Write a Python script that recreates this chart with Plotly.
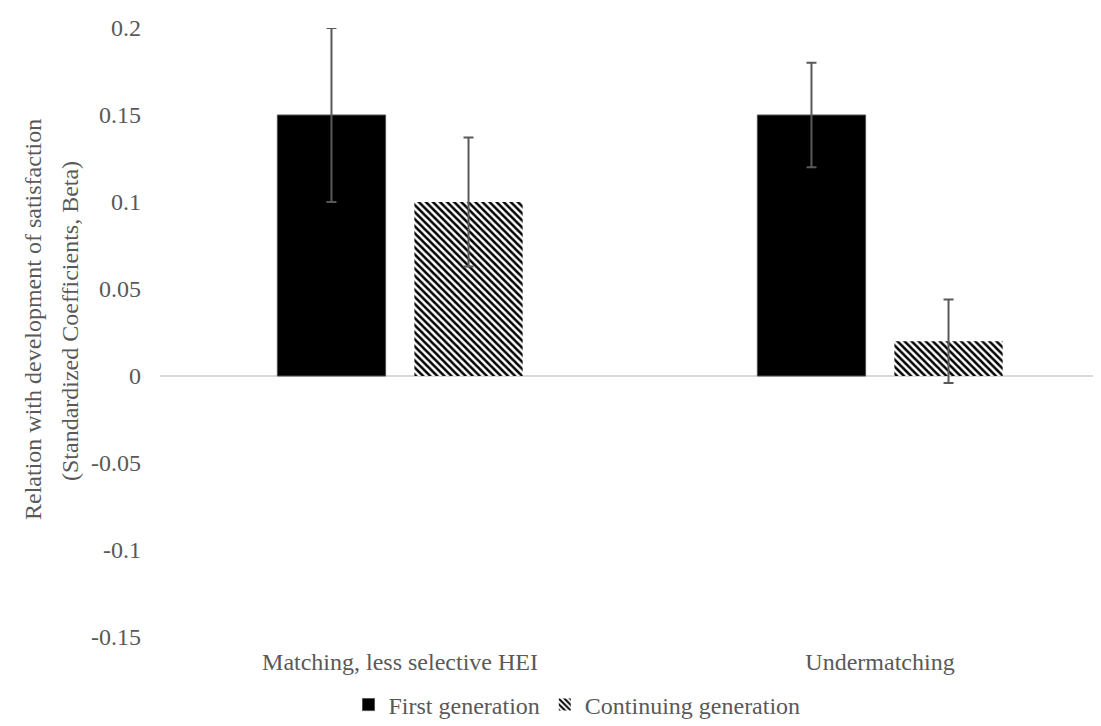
import plotly.graph_objects as go

categories = ["Matching, less selective HEI", "Undermatching"]
first_gen = [0.15, 0.15]
first_gen_err = [0.05, 0.03]
cont_gen = [0.10, 0.02]
cont_gen_err = [0.037, 0.024]
y_ticks = [-0.15, -0.1, -0.05, 0, 0.05, 0.1, 0.15, 0.2]
y_tick_text = ["-0.15", "-0.1", "-0.05", "0", "0.05", "0.1", "0.15", "0.2"]
y_title_1 = "Relation with development of satisfaction"
y_title_2 = "(Standardized Coefficients, Beta)"

FONT = "'Liberation Serif', 'Times New Roman', serif"
GRAY = "#595959"

fig = go.Figure()
fig.add_trace(go.Bar(
    name="First generation", x=categories, y=first_gen,
    marker=dict(color="black", line=dict(color="#505050", width=1)),
    error_y=dict(type="data", array=first_gen_err, color=GRAY, thickness=2, width=5),
))
fig.add_trace(go.Bar(
    name="Continuing generation", x=categories, y=cont_gen,
    marker=dict(color="white", line=dict(width=0),
                pattern=dict(shape="\\", fgcolor="black", bgcolor="white",
                             size=5, solidity=0.5, fillmode="replace")),
    error_y=dict(type="data", array=cont_gen_err, color=GRAY, thickness=2, width=5),
))

W, H = 1101, 726
L, R, T, B = 152, 0, 20, 97
pw = W - L - R
ph = H - T - B

fig.update_layout(
    width=W, height=H,
    margin=dict(l=L, r=R, t=T, b=B, pad=0),
    paper_bgcolor="white", plot_bgcolor="white",
    barmode="group", bargap=0.429, bargroupgap=0.21,
    font=dict(family=FONT, size=24, color=GRAY),
    xaxis=dict(range=[-0.5, -0.5 + pw / 480.0], showgrid=False, showline=False,
               zeroline=False, ticks="", ticklabelstandoff=8,
               tickfont=dict(family=FONT, size=24, color=GRAY)),
    yaxis=dict(range=[-0.15, 0.2], tickvals=y_ticks, ticktext=y_tick_text,
               showgrid=False, showline=False, zeroline=True,
               zerolinecolor="#d9d9d9", zerolinewidth=2, ticks="",
               ticklabelstandoff=18,
               tickfont=dict(family=FONT, size=24, color=GRAY)),
    showlegend=True,
    legend=dict(orientation="h", x=(569 - L) / pw, xanchor="center",
                y=-(697 - (T + ph)) / ph, yanchor="middle",
                font=dict(family=FONT, size=24, color=GRAY),
                bgcolor="rgba(0,0,0,0)", itemwidth=30, traceorder="normal"),
)

fig.add_annotation(text=y_title_1, xref="paper", yref="paper",
                   x=(25 - L) / pw, y=(T + ph - 312) / ph, textangle=-90,
                   showarrow=False, xanchor="center", yanchor="middle",
                   font=dict(family=FONT, size=24, color=GRAY))
fig.add_annotation(text=y_title_2, xref="paper", yref="paper",
                   x=(62 - L) / pw, y=(T + ph - 313) / ph, textangle=-90,
                   showarrow=False, xanchor="center", yanchor="middle",
                   font=dict(family=FONT, size=24, color=GRAY))

fig.write_html("out.html")
